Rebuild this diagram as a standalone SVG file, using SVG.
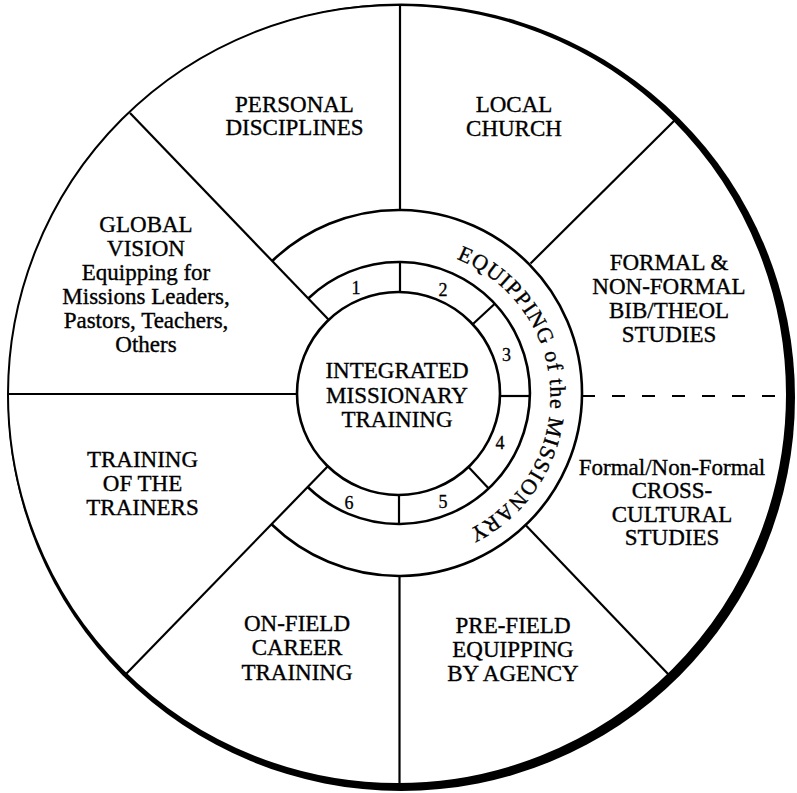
<svg xmlns="http://www.w3.org/2000/svg" width="797" height="793" viewBox="0 0 797 793">
<style>
  .t { font-family: "Liberation Serif", "Times New Roman", serif; font-size: 23px; fill: #000; stroke: #000; stroke-width: 0.35; text-anchor: middle; }
  .n { font-family: "Liberation Serif", "Times New Roman", serif; font-size: 18px; fill: #000; stroke: #000; stroke-width: 0.3; text-anchor: middle; }
  .arc { font-family: "Liberation Serif", "Times New Roman", serif; font-size: 22px; fill: #000; stroke: #000; stroke-width: 0.35; letter-spacing: 1.1px; }
  .ln { stroke: #000; stroke-width: 2.2; fill: none; stroke-linecap: butt; }
  .ring { stroke: #000; stroke-width: 2.6; fill: none; }
</style>
<defs>
  <path id="textArc" d="M 273.4 322.75 A 148.5 148.5 0 1 1 273.4 471.25"/>
</defs>
<rect width="797" height="793" fill="#fff"/>
<g id="outer-circle">
  <circle cx="401.3" cy="397.3" r="393.7" fill="#000"/>
  <circle cx="397.5" cy="394.5" r="389.5" fill="#fff" stroke="#000" stroke-width="2"/>
</g>
<g id="connectors">
  <line class="ln" x1="400" y1="5" x2="400" y2="210"/>
  <line class="ln" x1="399.5" y1="576" x2="399.5" y2="785"/>
  <line class="ln" x1="8" y1="394" x2="297.5" y2="394"/>
  <line class="ln" x1="130" y1="113" x2="328.7" y2="319.8"/>
  <line class="ln" x1="675.5" y1="119.5" x2="530.5" y2="263.5"/>
  <line class="ln" x1="526" y1="525.5" x2="668.5" y2="674.5"/>
  <line class="ln" x1="126.5" y1="673.5" x2="328.3" y2="465.8"/>
  <line class="ln" x1="582" y1="396" x2="787" y2="396" stroke-dasharray="13 17"/>
  <line class="ln" x1="400" y1="262" x2="400" y2="291.5"/>
  <line class="ln" x1="399" y1="494.5" x2="399" y2="524"/>
  <line class="ln" x1="473.2" y1="323.8" x2="494.8" y2="303.7"/>
  <line class="ln" x1="500.5" y1="396" x2="530" y2="396"/>
  <line class="ln" x1="468.5" y1="467" x2="488.7" y2="488.5"/>
</g>
<g id="equipping-ring">
  <path class="ring" d="M 272.2 261 A 183 183 0 1 1 271.5 524.2"/>
  <text class="arc"><textPath href="#textArc" startOffset="382.8" text-anchor="middle">EQUIPPING of the MISSIONARY</textPath></text>
</g>
<g id="numbered-ring">
  <path class="ring" d="M 308.2 298.5 A 131 131 0 1 1 307.7 487"/>
  <text class="n" x="356" y="294">1</text>
  <text class="n" x="443" y="296">2</text>
  <text class="n" x="506.5" y="361">3</text>
  <text class="n" x="500" y="449">4</text>
  <text class="n" x="443" y="508">5</text>
  <text class="n" x="349" y="509">6</text>
</g>
<g id="center">
  <circle class="ring" cx="398.5" cy="393.5" r="101.5" fill="#fff"/>
  <text class="t" x="397" y="378">INTEGRATED</text>
  <text class="t" x="397" y="403">MISSIONARY</text>
  <text class="t" x="397" y="427">TRAINING</text>
</g>
<g id="personal-disciplines">
  <text class="t" x="294.5" y="112">PERSONAL</text>
  <text class="t" x="294.5" y="135">DISCIPLINES</text>
</g>
<g id="local-church">
  <text class="t" x="514" y="112">LOCAL</text>
  <text class="t" x="514" y="136">CHURCH</text>
</g>
<g id="global-vision">
  <text class="t" x="146" y="232">GLOBAL</text>
  <text class="t" x="146" y="256">VISION</text>
  <text class="t" x="146" y="280">Equipping for</text>
  <text class="t" x="146" y="304">Missions Leaders,</text>
  <text class="t" x="146" y="328">Pastors, Teachers,</text>
  <text class="t" x="146" y="352">Others</text>
</g>
<g id="formal-bib-theol">
  <text class="t" x="669" y="270">FORMAL &amp;</text>
  <text class="t" x="669" y="294">NON-FORMAL</text>
  <text class="t" x="669" y="318">BIB/THEOL</text>
  <text class="t" x="669" y="342">STUDIES</text>
</g>
<g id="cross-cultural">
  <text class="t" x="672" y="475">Formal/Non-Formal</text>
  <text class="t" x="672" y="498">CROSS-</text>
  <text class="t" x="672" y="521.5">CULTURAL</text>
  <text class="t" x="672" y="545">STUDIES</text>
</g>
<g id="pre-field">
  <text class="t" x="513" y="633">PRE-FIELD</text>
  <text class="t" x="513" y="657">EQUIPPING</text>
  <text class="t" x="513" y="681">BY AGENCY</text>
</g>
<g id="on-field">
  <text class="t" x="297" y="631">ON-FIELD</text>
  <text class="t" x="297" y="655">CAREER</text>
  <text class="t" x="297" y="680">TRAINING</text>
</g>
<g id="training-trainers">
  <text class="t" x="142.5" y="467">TRAINING</text>
  <text class="t" x="142.5" y="491">OF THE</text>
  <text class="t" x="142.5" y="515">TRAINERS</text>
</g>
</svg>
